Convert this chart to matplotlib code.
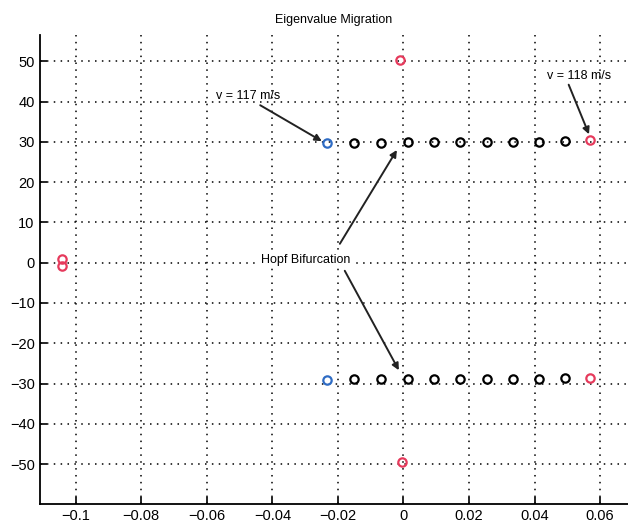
import numpy as np
import matplotlib
matplotlib.use("Agg")
from matplotlib import pyplot as plt

plt.rcParams['font.family'] = ['Liberation Sans', 'DejaVu Sans']

# eigenvalue real parts (x) and imaginary parts (y)
x_black = [-0.0151, -0.0069, 0.0013, 0.0093, 0.0174, 0.0254, 0.0333, 0.0413, 0.0493]
y_upper = [29.8, 29.8, 29.9, 29.9, 29.9, 30.0, 30.0, 30.1, 30.2]
y_lower = [-29.0, -29.0, -28.9, -28.9, -28.9, -28.9, -28.8, -28.8, -28.7]

x_blue = [-0.0234, -0.0234]
y_blue = [29.7, -29.2]

x_red = [0.0570, 0.0570, -0.0010, -0.0005, -0.1043, -0.1043]
y_red = [30.4, -28.6, 50.3, -49.6, 0.9, -0.8]

fig = plt.figure(figsize=(6.28, 5.26), dpi=100)
ax = fig.add_axes([0.063, 0.042, 0.937, 0.891])

mk = dict(linestyle='none', marker='o', markersize=6, markerfacecolor='none', markeredgewidth=1.6)
ax.plot(x_black, y_upper, color='black', **mk)
ax.plot(x_black, y_lower, color='black', **mk)
ax.plot(x_blue, y_blue, color='#2f6cc4', **mk)
ax.plot(x_red, y_red, color='#e63a5c', **mk)

ax.set_xlim(-0.111, 0.0685)
ax.set_ylim(-59.9, 56.5)
ax.set_xticks([-0.1, -0.08, -0.06, -0.04, -0.02, 0, 0.02, 0.04, 0.06])
ax.set_xticklabels(['\u22120.1', '\u22120.08', '\u22120.06', '\u22120.04', '\u22120.02', '0', '0.02', '0.04', '0.06'])
ax.set_yticks(np.arange(-50, 51, 10))
ax.set_yticklabels([str(v).replace('-', '\u2212') for v in range(-50, 51, 10)])
ax.tick_params(direction='in', length=5, labelsize=10.5, width=1.2)
ax.grid(True, color='black', linestyle=(0, (1, 3.5)), linewidth=1.1)
for s in ['top', 'right']:
    ax.spines[s].set_visible(False)
for s in ['left', 'bottom']:
    ax.spines[s].set_linewidth(1.3)

ax.set_title('Eigenvalue Migration', fontsize=9, pad=9)

arr = dict(arrowstyle='-|>', color='#222222', lw=1.4, mutation_scale=10, shrinkA=0, shrinkB=0)
ax.annotate('v = 117 m/s', xy=(-0.0249, 30.2), xytext=(-0.0573, 41.3),
            fontsize=9, va='center', ha='left', arrowprops=dict(arr, relpos=(0.62, 0.0)))
ax.annotate('v = 118 m/s', xy=(0.0566, 31.9), xytext=(0.0438, 46.4),
            fontsize=9, va='center', ha='left', arrowprops=dict(arr, relpos=(0.32, 0.0)))
ax.annotate('', xy=(-0.002, 28.0), xytext=(-0.0194, 4.7), arrowprops=arr)
ax.annotate('', xy=(-0.0014, -26.7), xytext=(-0.0179, -2.0), arrowprops=arr)
ax.text(-0.0298, 0.8, 'Hopf Bifurcation', fontsize=9, ha='center', va='center',
        bbox=dict(facecolor='white', edgecolor='none', pad=1))

fig.savefig('out.png', dpi=100)
